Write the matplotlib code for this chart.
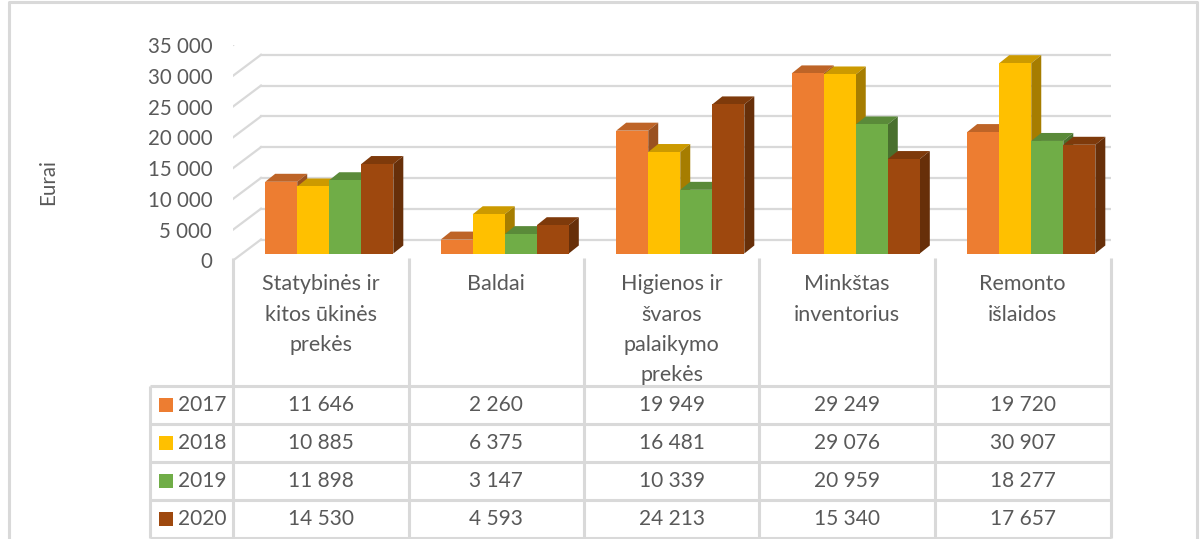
"""plot.py - Išlaidos prekėms 2017-2020: pseudo-3D stulpeliai su duomenų lentele."""
import matplotlib
matplotlib.use("Agg")
import matplotlib.pyplot as plt
from matplotlib.colors import to_rgb
from matplotlib.lines import Line2D
from matplotlib.patches import Polygon
from matplotlib.transforms import ScaledTranslation

categories = ["Statybinės ir\nkitos ūkinės\nprekės", "Baldai",
              "Higienos ir\nšvaros\npalaikymo\nprekės",
              "Minkštas\ninventorius", "Remonto\nišlaidos"]
years = ["2017", "2018", "2019", "2020"]
v2017 = [11646, 2260, 19949, 29249, 19720]
v2018 = [10885, 6375, 16481, 29076, 30907]
v2019 = [11898, 3147, 10339, 20959, 18277]
v2020 = [14530, 4593, 24213, 15340, 17657]
series = [v2017, v2018, v2019, v2020]
colors = ["#ED7D31", "#FFC000", "#70AD47", "#9E480E"]
yticks = list(range(0, 35001, 5000))

W, H, DPI = 1203, 539, 100
GREY = "#D9D9D9"
TXT = "#595959"
plt.rcParams["font.family"] = ["Lato", "DejaVu Sans"]


def fmt(v):
    return f"{v:,}".replace(",", " ")


def box(left, top, right, bottom):
    # pikseliai (nuo viršaus) -> figure coords
    return [left / W, 1 - bottom / H, (right - left) / W, (bottom - top) / H]


def shade(c, k):
    return tuple(x * k for x in to_rgb(c))


fig = plt.figure(figsize=(W / DPI, H / DPI), dpi=DPI)
ax = fig.add_axes(box(233, 45, 1110.5, 260.5))
ax.set_xlim(0, 5)
ax.set_ylim(0, 35000)
for s in ax.spines.values():
    s.set_visible(False)
ax.set_xticks([])
ax.set_yticks(yticks, [fmt(t) for t in yticks])
ax.tick_params(axis="y", length=0, pad=15, labelsize=14.8, labelcolor=TXT)
ax.set_ylabel("Eurai", fontsize=14.8, color=TXT)
ax.yaxis.set_label_coords(-175 / 877.5, 0.365)


def shift(dx, dy):
    # poslinkis pikseliais (gylis)
    return ax.transData + ScaledTranslation(dx / DPI, dy / DPI, fig.dpi_scale_trans)


# tinklelis ant galinės sienos ir šoninės linijos
back = shift(28, 21)
for t in yticks:
    ax.plot([0, 5], [t, t], color=GREY, lw=1.6, transform=back, zorder=1)
    x0, y0 = ax.transData.transform((0, t))
    ax.add_line(Line2D([x0, x0 + 28], [y0, y0 + 21], color=GREY, lw=1.6,
                       transform=None, zorder=1))

# stulpeliai: priekis + viršus + šonas
w = 0.1825
front = shift(8.5, 7)
depth = 10 / 877.5 * 5
rise = 8 / 215.5 * 35000
z = 2
for i in range(len(categories)):
    for j, vals in enumerate(series):
        x = i + 0.5 + (j - 2) * w
        v = vals[i]
        c = colors[j]
        ax.add_patch(Polygon([(x, v), (x + depth, v + rise), (x + w + depth, v + rise), (x + w, v)],
                             fc=shade(c, 0.8), ec="none", transform=front, zorder=z))
        ax.add_patch(Polygon([(x + w, 0), (x + w + depth, rise), (x + w + depth, v + rise), (x + w, v)],
                             fc=shade(c, 0.65), ec="none", transform=front, zorder=z))
        ax.bar(x, v, width=w, align="edge", color=c, transform=front, zorder=z + 1)
        z += 2

# duomenų lentelė
tab = fig.add_axes(box(150, 258, 1110.5, 538), facecolor="none")
cw = 175.5
rh = 38
tab.set_xlim(-83 / cw, 5)
tab.set_ylim(0, 280 / rh)
tab.axis("off")
top = 280 / rh
tab.vlines(range(6), 0, top, color=GREY, lw=2.2, clip_on=False)
tab.vlines(-83 / cw, 0, 4, color=GREY, lw=2.2, clip_on=False)
tab.hlines(range(5), -83 / cw, 5, color=GREY, lw=2.2, clip_on=False)
for i, name in enumerate(categories):
    tab.text(i + 0.5, top - 16.5 / rh, name, ha="center", va="top", fontsize=15.5,
             color=TXT, linespacing=1.63)
for j, (yr, vals) in enumerate(zip(years, series)):
    r = 3.5 - j
    tab.scatter([-67 / cw], [r], marker="s", s=88, color=colors[j], lw=0, clip_on=False)
    tab.text(-55 / cw, r, yr, ha="left", va="center", fontsize=15, color=TXT)
    for i, v in enumerate(vals):
        tab.text(i + 0.5, r, fmt(v), ha="center", va="center", fontsize=15, color=TXT)

# išorinis rėmelis be apačios
fig.add_artist(Line2D([9 / W, 9 / W, 1197 / W, 1197 / W],
                      [0, 1 - 2 / H, 1 - 2 / H, 0], color=GREY, lw=2.2))

fig.savefig("out.png", dpi=DPI)
